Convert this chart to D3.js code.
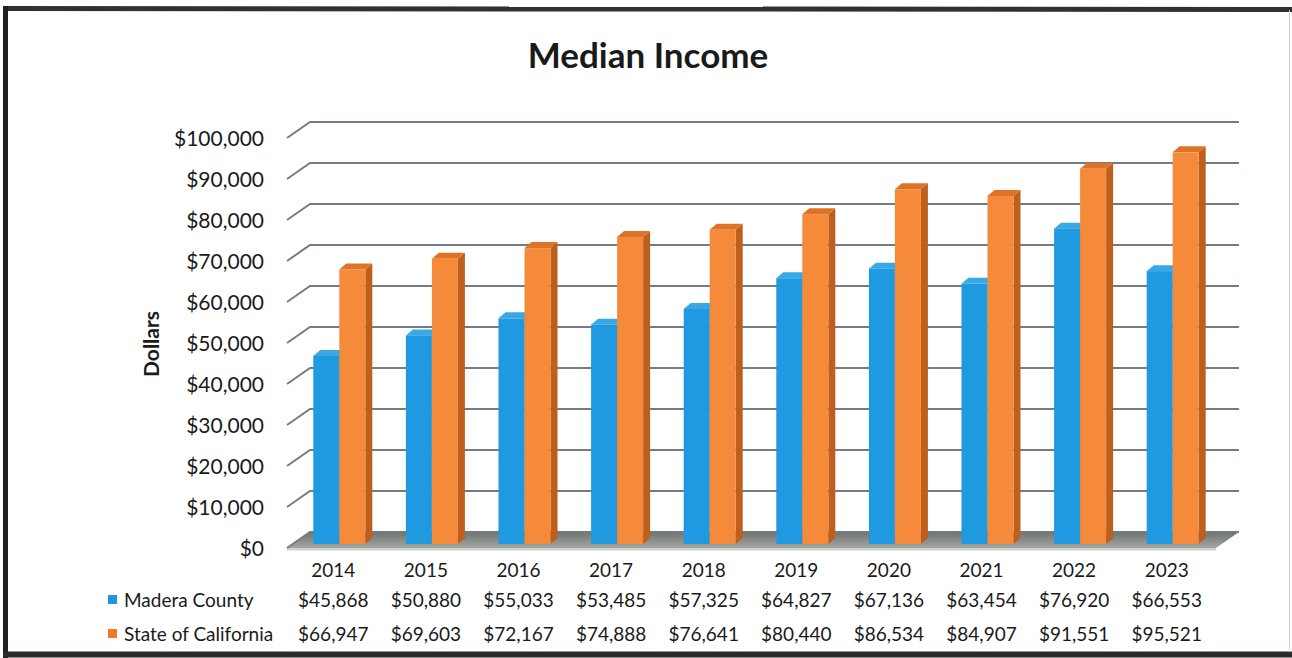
<!DOCTYPE html>
<html>
<head>
<meta charset="utf-8">
<script src="https://cdn.jsdelivr.net/npm/d3@7"></script>
<style>
  html, body { margin: 0; padding: 0; background: #fff; }
  svg { display: block; font-family: Lato, "Open Sans", sans-serif; }
</style>
</head>
<body>
<svg id="chart" width="1292" height="658"></svg>
<script>
// Median household income, Madera County vs. State of California
const years = ["2014", "2015", "2016", "2017", "2018", "2019", "2020", "2021", "2022", "2023"];
const seriesNames = ["Madera County", "State of California"];
const maderaCounty = [45868, 50880, 55033, 53485, 57325, 64827, 67136, 63454, 76920, 66553];
const stateOfCalifornia = [66947, 69603, 72167, 74888, 76641, 80440, 86534, 84907, 91551, 95521];
const yTicks = [0, 10000, 20000, 30000, 40000, 50000, 60000, 70000, 80000, 90000, 100000];

const seriesValues = [maderaCounty, stateOfCalifornia];
const colors = {
  "Madera County": { front: "#1f9ae0", top: "#3aa8e4", side: "#1670ad", key: "#1f98de" },
  "State of California": { front: "#f58a3b", top: "#de7327", side: "#bf5f1d", key: "#f07a2c" }
};

const svg = d3.select("#chart");

// 3D projection offsets
const wall = { dx: 23, dy: -16 };   // back wall relative to front edge of floor
const plane = { dx: 6, dy: -4 };    // column front faces
const depth = { dx: 7, dy: -6 };    // column depth

const left = 287, right = 1213;
const x = d3.scaleBand().domain(years).range([left, right]).padding(0);
const xs = d3.scaleBand().domain(seriesNames).range([0, x.bandwidth()])
  .paddingInner(0).paddingOuter(0.78);
const y = d3.scaleLinear().domain([0, 100000]).range([548, 138]);

// Outer frame
const frame = svg.append("g");
frame.append("line").attr("x1", 3).attr("x2", 1292).attr("y1", 8.5).attr("y2", 9.5)
  .attr("stroke", "#2f332f").attr("stroke-width", 5);
frame.append("line").attr("x1", 5.5).attr("x2", 5.5).attr("y1", 6).attr("y2", 658)
  .attr("stroke", "#1e201e").attr("stroke-width", 5);
frame.append("line").attr("x1", 3).attr("x2", 1292).attr("y1", 654.5).attr("y2", 654.5)
  .attr("stroke", "#2a2c2a").attr("stroke-width", 6);
frame.append("line").attr("x1", 1289.5).attr("x2", 1289.5).attr("y1", 10).attr("y2", 652)
  .attr("stroke", "#d0d0d0").attr("stroke-width", 1);

// Title
svg.append("text")
  .attr("x", 648).attr("y", 68)
  .attr("text-anchor", "middle")
  .attr("font-weight", "bold")
  .attr("font-size", 35)
  .attr("fill", "#1a1a1a")
  .text("Median Income");

// Axis title
svg.append("text")
  .attr("transform", "translate(159,344) rotate(-90)")
  .attr("text-anchor", "middle")
  .attr("font-weight", "bold")
  .attr("font-size", 21)
  .attr("fill", "#1a1a1a")
  .text("Dollars");

// Floor
const floorBack = y(0) + wall.dy;
const defs = svg.append("defs");
const fg = defs.append("linearGradient").attr("id", "floorGrad")
  .attr("x1", 0).attr("x2", 0).attr("y1", 0).attr("y2", 1);
fg.append("stop").attr("offset", "0%").attr("stop-color", "#6f746f");
fg.append("stop").attr("offset", "100%").attr("stop-color", "#a3a7a3");
svg.append("path")
  .attr("d", `M${left},${y(0)} L${left + wall.dx},${floorBack} L${right + wall.dx + 3},${floorBack} L${right + 3},${y(0)} Z`)
  .attr("fill", "url(#floorGrad)");
svg.append("path")
  .attr("d", `M${left},${y(0)} L${right + 3},${y(0)} L${right + 3},${y(0) + 2.5} L${left},${y(0) + 2.5} Z`)
  .attr("fill", "#cfd2cf");

// Gridlines: front diagonal + back wall line
const grid = svg.append("g");
yTicks.forEach(t => {
  const yf = y(t);
  grid.append("path")
    .attr("d", `M${left},${yf} L${left + wall.dx},${yf + wall.dy} L${right + wall.dx + 3},${yf + wall.dy}`)
    .attr("fill", "none")
    .attr("stroke", "#737c86")
    .attr("stroke-width", 2);
});

// Y axis labels
const yAxis = d3.axisLeft(y).tickValues(yTicks).tickFormat(d3.format("$,")).tickSize(0).tickPadding(6);
const ag = svg.append("g").attr("transform", "translate(270,0)").call(yAxis);
ag.select(".domain").remove();
ag.selectAll("text").attr("font-size", 21).attr("fill", "#1a1a1a")
  .attr("font-family", "Lato, sans-serif").attr("dy", "0.34em");

// Columns
const bars = svg.append("g");
years.forEach((yr, i) => {
  seriesNames.forEach((name, s) => {
    const v = seriesValues[s][i];
    const c = colors[name];
    const x0 = x(yr) + xs(name) + plane.dx;
    const w = xs.bandwidth();
    const yb = y(0) + plane.dy;
    const yt = y(v) + plane.dy;
    const g = bars.append("g");
    // side face
    g.append("path")
      .attr("d", `M${x0 + w},${yt} L${x0 + w + depth.dx},${yt + depth.dy} L${x0 + w + depth.dx},${yb + depth.dy} L${x0 + w},${yb} Z`)
      .attr("fill", c.side);
    // top face
    g.append("path")
      .attr("d", `M${x0},${yt} L${x0 + depth.dx},${yt + depth.dy} L${x0 + w + depth.dx},${yt + depth.dy} L${x0 + w},${yt} Z`)
      .attr("fill", c.top);
    // front face
    g.append("rect")
      .attr("x", x0).attr("y", yt)
      .attr("width", w).attr("height", yb - yt)
      .attr("fill", c.front);
  });
});

// Data table below the chart
const table = svg.append("g").attr("fill", "#1a1a1a").attr("font-size", 19);
table.selectAll("text.year").data(years).join("text")
  .attr("class", "year")
  .attr("x", d => x(d) + x.bandwidth() / 2)
  .attr("y", 570).attr("dy", "0.35em")
  .attr("text-anchor", "middle")
  .text(d => d);

const rowY = [600, 634];
seriesNames.forEach((name, s) => {
  table.append("rect")
    .attr("x", 108).attr("y", rowY[s] - 5)
    .attr("width", 9).attr("height", 9)
    .attr("fill", colors[name].key);
  table.append("text")
    .attr("x", 124).attr("y", rowY[s]).attr("dy", "0.35em")
    .text(name);
  table.selectAll(null).data(seriesValues[s]).join("text")
    .attr("x", (d, i) => x(years[i]) + x.bandwidth() / 2)
    .attr("y", rowY[s]).attr("dy", "0.35em")
    .attr("text-anchor", "middle")
    .text(d => d3.format("$,")(d));
});
</script>
</body>
</html>
